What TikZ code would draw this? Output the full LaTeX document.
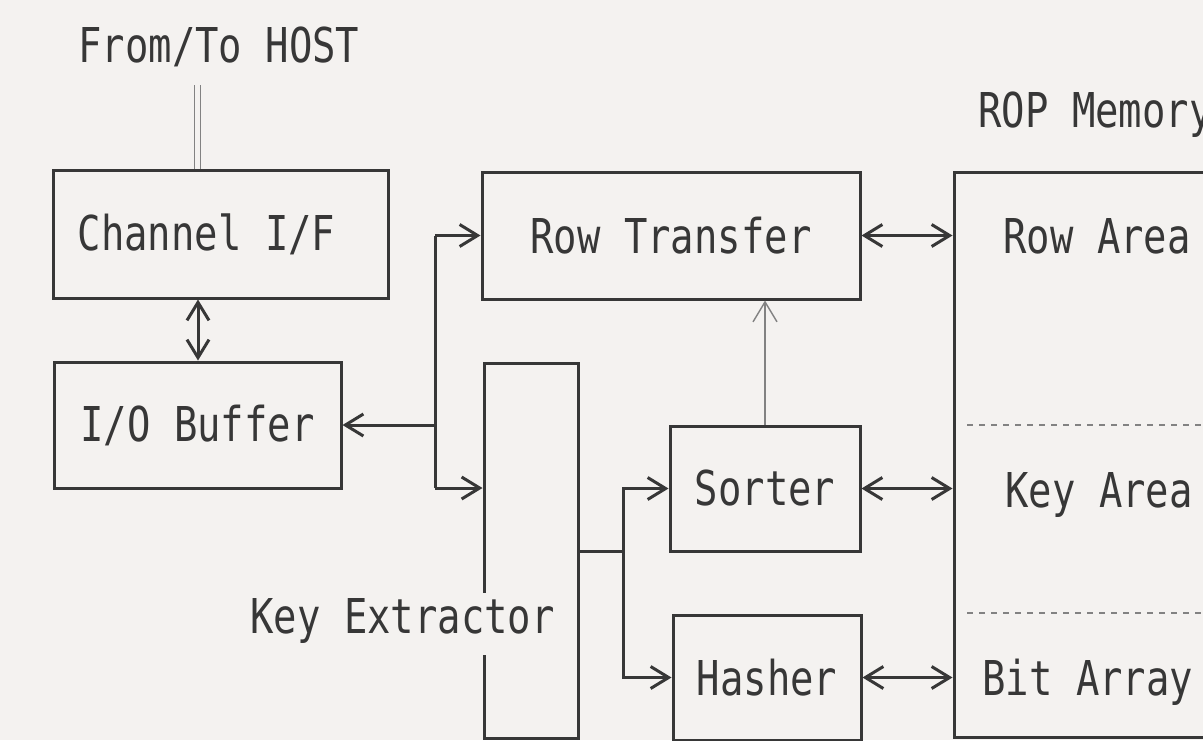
\documentclass[tikz,border=0pt]{standalone}
\usepackage{fontspec}
\newfontfamily\monof[FakeStretch=0.81]{DejaVu Sans Mono}
\usetikzlibrary{arrows.meta}
\definecolor{bg}{RGB}{244,242,240}
\definecolor{ink}{RGB}{55,55,55}
\definecolor{pale}{RGB}{130,130,130}
\begin{document}
\begin{tikzpicture}[x=0.5pt,y=-0.5pt,
  every node/.style={font=\monof\fontsize{24pt}{28pt}\selectfont, text=ink},
  box/.style={draw=ink, line width=1.5pt, inner sep=0pt},
  lbl/.style={inner sep=0pt, anchor=base west},
  conn/.style={draw=ink, line width=1.5pt},
  tip/.tip={Straight Barb[length=9pt,width=11pt]},
  arr/.style={conn, -tip},
  barr/.style={conn, tip-tip},
  thinarr/.style={draw=pale, line width=0.7pt, -{Straight Barb[length=10pt,width=12pt]}},
  sep/.style={draw=pale, line width=0.6pt, dash pattern=on 3pt off 3pt}
]
\useasboundingbox (0,0) rectangle (1203,740);
\clip (0,0) rectangle (1203,740);
\fill[bg] (0,0) rectangle (1203,740);

% boxes
\node[box, minimum width=167.5pt, minimum height=64pt] (ch) at (220.5,234) {Channel I/F\kern14pt};
\node[box, minimum width=143.5pt, minimum height=63pt] (io) at (197.5,425) {I/O Buffer};
\node[box, minimum width=189pt, minimum height=63.5pt] (rt) at (671,235.5) {Row Transfer};
\node[box, minimum width=47pt, minimum height=187.5pt] (ke) at (531,550.5) {};
\node[box, minimum width=95pt, minimum height=62.5pt] (so) at (765,488.5) {Sorter};
\node[box, minimum width=94pt, minimum height=62.5pt] (ha) at (767,677.5) {Hasher};
\node[box, minimum width=150pt, minimum height=282.5pt] (rop) at (1104,454.5) {};

% labels
\node[lbl, fill=bg, text height=20pt, text depth=11pt] (ketext) at (250,633) {Key Extractor};
\node[lbl] (host) at (78,62) {From/To HOST};
\node[lbl] (ropt) at (978,127) {ROP Memory};
\node[lbl] (rowa) at (1003,253) {Row Area};
\node[lbl] (keya) at (1005,507) {Key Area};
\node[lbl] (bita) at (982,695) {Bit Array};

% separators inside ROP memory
\draw[sep] (967,425) -- (1210,425);
\draw[sep] (967,613) -- (1210,613);

% host line
\coordinate (hostend) at (197.5,85);
\draw[draw=pale, line width=0.6pt, double=bg, double distance=2.5pt] (hostend) -- (hostend |- ch.north);

% channel <-> io buffer
\draw[barr] (ch.south -| 198,0) -- (io.north -| 198,0);

% bus from io buffer
\coordinate (bt) at (435,235.5);
\coordinate (bb) at (435,488);
\draw[conn] (bt) -- (bb);
\draw[arr] (bt) -- (rt.west);
\draw[arr] (bb) -- (bb -| ke.west);
\draw[arr] (bt |- io.east) -- (io.east);

% key extractor outputs
\coordinate (kx) at (623,551);
\draw[conn] (kx -| ke.east) -- (kx);
\draw[arr] (kx) |- (so.west);
\draw[arr] (kx) |- (ha.west);

% sorter -> row transfer
\draw[thinarr] (so.north) -- (rt.south -| so.north);

% to ROP memory
\draw[barr] (rt.east) -- (rt.east -| rop.west);
\draw[barr] (so.east) -- (so.east -| rop.west);
\draw[barr] (ha.east) -- (ha.east -| rop.west);
\end{tikzpicture}
\end{document}
